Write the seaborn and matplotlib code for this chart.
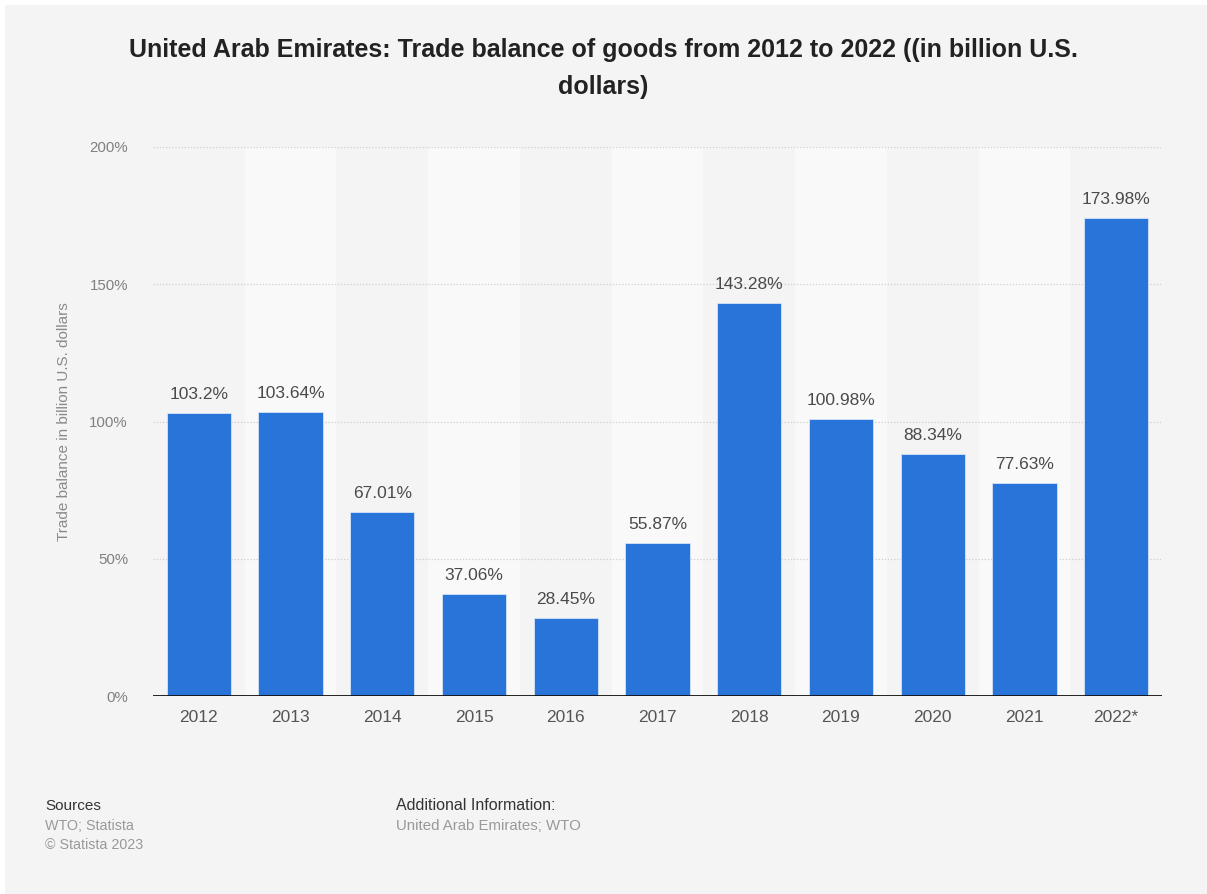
import matplotlib
matplotlib.use("Agg")
import matplotlib.pyplot as plt
import seaborn as sns
import pandas as pd
from matplotlib.patches import Rectangle

years = ["2012", "2013", "2014", "2015", "2016", "2017", "2018", "2019", "2020", "2021", "2022*"]
values = [103.2, 103.64, 67.01, 37.06, 28.45, 55.87, 143.28, 100.98, 88.34, 77.63, 173.98]
value_labels = ["103.2%", "103.64%", "67.01%", "37.06%", "28.45%", "55.87%", "143.28%",
                "100.98%", "88.34%", "77.63%", "173.98%"]
y_ticks = [0, 50, 100, 150, 200]
y_tick_labels = ["0%", "50%", "100%", "150%", "200%"]

sns.set_theme(style="white")
plt.rcParams['font.family'] = ['Liberation Sans', 'DejaVu Sans']

bg = "#f4f4f4"
W, H = 1207, 894
fig = plt.figure(figsize=(W / 100, H / 100), dpi=100, facecolor="white")
# screenshot background with thin white strip on top and left only
fig.patches.append(Rectangle((5 / W, -0.1), 1.2, 1.1 - 5 / H, transform=fig.transFigure,
                             facecolor=bg, edgecolor="none", zorder=-10))

ax = fig.add_axes([153 / W, 1 - 696 / H, 1009 / W, 549 / H])
ax.set_facecolor(bg)

df = pd.DataFrame({"year": years, "value": values})

# alternating column bands
for i in range(len(years)):
    if i % 2 == 1:
        ax.axvspan(i - 0.5, i + 0.5, color="#f9f9f9", zorder=0, lw=0)

sns.barplot(data=df, x="year", y="value", color="#2874d9", saturation=1, width=0.70,
            ax=ax, zorder=3, edgecolor="#d6e4f7", linewidth=0.6)

for i, (v, lab) in enumerate(zip(values, value_labels)):
    ax.text(i, v + 4.0, lab, ha="center", va="bottom", fontsize=12.5, color="#4a4a4a", zorder=4)

ax.set_xlim(-0.5, len(years) - 0.5)
ax.set_ylim(0, 200)
ax.set_yticks(y_ticks)
ax.set_yticklabels(y_tick_labels, fontsize=10.8, color="#808080")
ax.tick_params(axis="y", length=0, pad=18)
ax.tick_params(axis="x", length=0, pad=10, labelsize=12.5, labelcolor="#555555")
for t in y_ticks[1:]:
    ax.axhline(t, color="#cfcfcf", lw=0.9, ls=(0, (1, 1.5)), zorder=1)
ax.axhline(0, color="#111111", lw=1.3, zorder=5)
for s in ax.spines.values():
    s.set_visible(False)
ax.set_xlabel("")
ax.set_ylabel("Trade balance in billion U.S. dollars", fontsize=11, color="#8a8a8a")
ax.yaxis.set_label_coords(-0.081, 0.5)

fig.text(0.5, 1 - 50 / H, "United Arab Emirates: Trade balance of goods from 2012 to 2022 ((in billion U.S.",
         ha="center", va="center", fontsize=18, fontweight="bold", color="#222222")
fig.text(0.5, 1 - 87 / H, "dollars)", ha="center", va="center", fontsize=18, fontweight="bold", color="#222222")

fig.text(45 / W, 1 - 806 / H, "Sources", fontsize=11, color="#333333", va="center")
fig.text(45 / W, 1 - 826 / H, "WTO; Statista", fontsize=10.3, color="#999999", va="center")
fig.text(45 / W, 1 - 845 / H, "© Statista 2023", fontsize=10.3, color="#999999", va="center")
fig.text(396 / W, 1 - 806 / H, "Additional Information:", fontsize=11.5, color="#333333", va="center")
fig.text(396 / W, 1 - 826 / H, "United Arab Emirates; WTO", fontsize=10.8, color="#999999", va="center")

fig.savefig("out.png", dpi=100, facecolor="white")
